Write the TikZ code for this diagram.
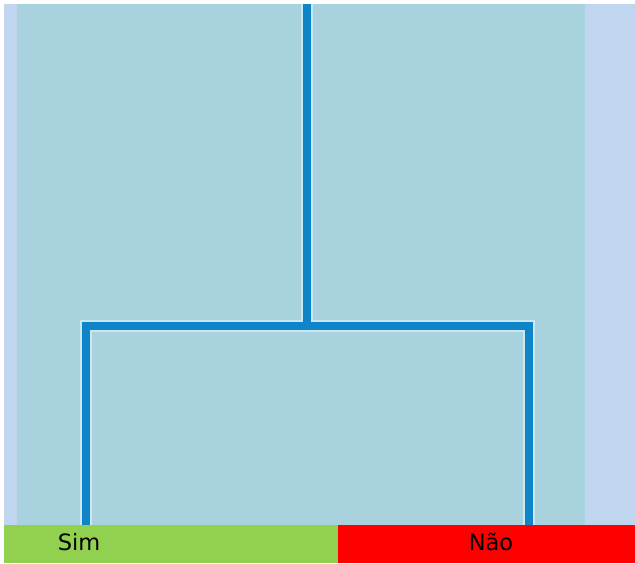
\documentclass[tikz,border=0pt]{standalone}
\usepackage{fontspec}
\setmainfont{DejaVu Sans}
\definecolor{outerbg}{RGB}{192,214,238}
\definecolor{panelbg}{RGB}{168,210,222}
\definecolor{linecol}{RGB}{16,132,200}
\definecolor{halocol}{RGB}{200,232,242}
\definecolor{simgreen}{RGB}{146,208,80}
\definecolor{naored}{RGB}{255,0,0}
\begin{document}
\begin{tikzpicture}[x=1pt,y=-1pt,
  halo/.style={draw=halocol,line width=12pt,line cap=rect},
  branch/.style={draw=linecol,line width=7.5pt,line cap=rect,line join=miter},
  lbl/.style={anchor=base,font=\fontsize{22.5}{26}\selectfont,text=black,inner sep=0pt}]
\useasboundingbox (0,0) rectangle (635,563);
\fill[white] (0,0) rectangle (635,563);
\fill[outerbg] (4,4) rectangle (635,563);
\fill[panelbg] (17,4) rectangle (585,526);
% connectors
\coordinate (top) at (307,4);
\coordinate (fork) at (307,326);
\coordinate (lc) at (86,326);
\coordinate (rc) at (529,326);
\coordinate (lend) at (86,526);
\coordinate (rend) at (529,526);
\begin{scope}
\clip (17,4) rectangle (585,526);
\draw[halo] (top) -- (fork);
\draw[halo] (lend) -- (lc) -- (rc) -- (rend);
\draw[branch] (top) -- (fork);
\draw[branch] (lend) -- (lc) -- (rc) -- (rend);
\end{scope}
% bottom bar
\fill[simgreen] (4,525) rectangle (338,563);
\fill[naored] (338,525) rectangle (635,563);
\node[lbl] (sim) at (79,550) {Sim};
\node[lbl] (nao) at (491,550) {Não};
\end{tikzpicture}
\end{document}
